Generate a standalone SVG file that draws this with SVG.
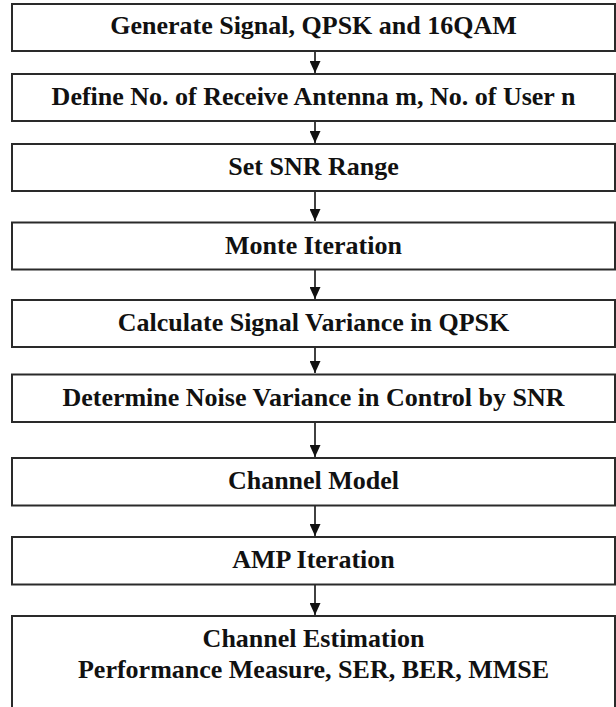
<svg xmlns="http://www.w3.org/2000/svg" width="616" height="707" viewBox="0 0 616 707" font-family="Liberation Serif, Times New Roman, serif">
<style>
.box{fill:#ffffff;stroke:#2a2a2a;stroke-width:2}
text{font-family:"Liberation Serif",serif}
.lbl{font-weight:bold;font-size:26px;fill:#111;text-anchor:middle}
.con{stroke:#111;stroke-width:1.6;fill:none}
</style>
<defs>
<marker id="ah" markerWidth="12" markerHeight="11" refX="12" refY="5.5" orient="auto" markerUnits="userSpaceOnUse" viewBox="0 0 12 11">
<path d="M0,0 L12,5.5 L0,11 Z" fill="#111"/>
</marker>
</defs>
<rect width="616" height="707" fill="#ffffff"/>
<g id="connectors">
<line class="con" x1="315" y1="51" x2="315" y2="73" marker-end="url(#ah)"/>
<line class="con" x1="315" y1="121" x2="315" y2="143" marker-end="url(#ah)"/>
<line class="con" x1="315" y1="191" x2="315" y2="221" marker-end="url(#ah)"/>
<line class="con" x1="315" y1="270" x2="315" y2="299" marker-end="url(#ah)"/>
<line class="con" x1="315" y1="347" x2="315" y2="373" marker-end="url(#ah)"/>
<line class="con" x1="315" y1="422" x2="315" y2="457" marker-end="url(#ah)"/>
<line class="con" x1="315" y1="505" x2="315" y2="536" marker-end="url(#ah)"/>
<line class="con" x1="315" y1="584" x2="315" y2="615" marker-end="url(#ah)"/>
</g>
<g id="n1"><rect class="box" x="12" y="4" width="603" height="47"/><text class="lbl" font-family="Liberation Serif" x="313.5" y="34">Generate Signal, QPSK and 16QAM</text></g>
<g id="n2"><rect class="box" x="12" y="74" width="603" height="47"/><text class="lbl" font-family="Liberation Serif" x="313.5" y="105">Define No. of Receive Antenna m, No. of User n</text></g>
<g id="n3"><rect class="box" x="12" y="144" width="603" height="47"/><text class="lbl" font-family="Liberation Serif" x="313.5" y="175">Set SNR Range</text></g>
<g id="n4"><rect class="box" x="12" y="222.5" width="603" height="47"/><text class="lbl" font-family="Liberation Serif" x="313.5" y="254">Monte Iteration</text></g>
<g id="n5"><rect class="box" x="12" y="300" width="603" height="47"/><text class="lbl" font-family="Liberation Serif" x="313.5" y="331">Calculate Signal Variance in QPSK</text></g>
<g id="n6"><rect class="box" x="12" y="374.5" width="603" height="47.5"/><text class="lbl" font-family="Liberation Serif" x="313.5" y="406">Determine Noise Variance in Control by SNR</text></g>
<g id="n7"><rect class="box" x="12" y="458" width="603" height="47.5"/><text class="lbl" font-family="Liberation Serif" x="313.5" y="489">Channel Model</text></g>
<g id="n8"><rect class="box" x="12" y="537" width="603" height="47.5"/><text class="lbl" font-family="Liberation Serif" x="313.5" y="568">AMP Iteration</text></g>
<g id="n9"><rect class="box" x="12" y="616" width="603" height="100"/><text class="lbl" font-family="Liberation Serif" x="313.5" y="647">Channel Estimation</text><text class="lbl" font-family="Liberation Serif" x="313.5" y="678">Performance Measure, SER, BER, MMSE</text></g>
</svg>
